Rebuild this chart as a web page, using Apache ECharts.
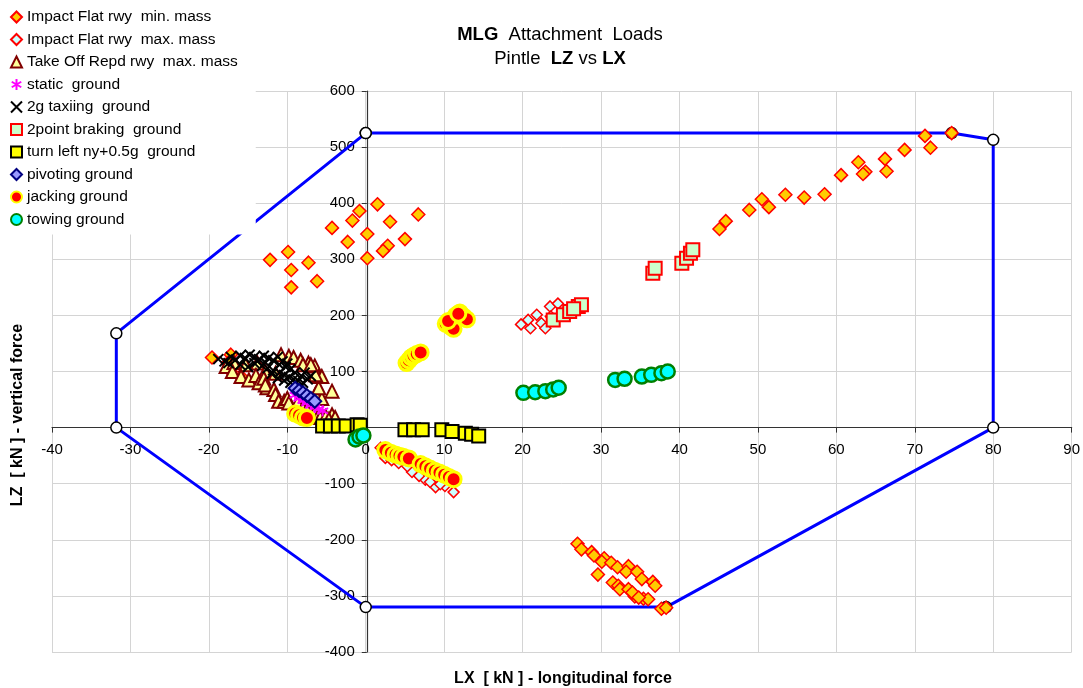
<!DOCTYPE html>
<html>
<head>
<meta charset="utf-8">
<script src="https://cdn.jsdelivr.net/npm/echarts@6/dist/echarts.min.js"></script>
<style>html,body{margin:0;padding:0;background:#fff}#c{width:1083px;height:688px}</style>
</head>
<body>
<div id="c"></div>
<script>
// ---- axis ticks ----
const xTicks = {min: -40, max: 90, interval: 10};
const yTicks = {min: -400, max: 600, interval: 100};

// ---- envelope polygon (LX, LZ) ----
const envelopeX = [0, 74.7, 80, 80, 38.3, 0, -31.8, -31.8, 0];
const envelopeY = [525, 525, 513, 0, -320, -320, 0, 168, 525];

// ---- series names ----
const seriesNames = [
  'Impact Flat rwy  min. mass',
  'Impact Flat rwy  max. mass',
  'Take Off Repd rwy  max. mass',
  'static  ground',
  '2g taxiing  ground',
  '2point braking  ground',
  'turn left ny+0.5g  ground',
  'pivoting ground',
  'jacking ground',
  'towing ground'
];

// ---- series values [LX, LZ] ----
const impactMinMass = [
  [-12.2,299],[-9.9,313],[-9.5,281],[-7.3,294],[-9.5,250],[-6.2,261],[-4.3,356],[-2.3,331],
  [-1.7,369],[-0.8,386],[1.5,398],[0.2,345],[0.2,302],[3.1,367],[2.8,324],[2.2,315],[5.0,336],[6.7,380],
  [45.1,354],[45.9,368],[48.9,388],[50.5,407],[51.4,393],[53.5,415],[55.9,410],[58.5,416],[60.6,450],
  [62.8,473],[63.7,456],[63.4,452],[66.2,479],[66.4,457],[68.7,495],[71.3,520],[72.0,499],[74.7,525],
  [27.0,-207],[27.5,-217],[28.8,-222],[29.1,-228],[30.4,-233],[30.1,-239],[31.3,-241],[32.1,-249],
  [33.5,-247],[33.2,-257],[34.6,-257],[35.2,-270],[29.6,-262],[31.5,-276],[32.2,-282],[32.4,-288],
  [33.5,-288],[34.3,-301],[35.4,-305],[36.0,-306],[36.6,-275],[36.9,-282],[37.7,-323],[38.3,-321],
  [34.0,-294],[34.8,-303],
  [-19.6,125],[-17.2,130],[-17.6,115],[-17.2,100],[-15.9,91]
];
const impactMaxMass = [
  [19.8,184],[21.0,177],[20.7,192],[21.8,201],[22.4,186],[22.9,177],[23.5,216],[24.5,221],[23.6,198],
  [1.9,-36],[2.5,-54],[4.2,-63],[5.9,-79],[7.6,-93],[8.9,-106],[10.1,-104],[11.2,-115],[5.3,-69],
  [8.2,-97],[3.3,-58],[6.8,-86],[9.5,-101]
];
const takeOffMaxMass = [
  [-10.8,130],[-9.8,127],[-9.2,125],[-8.3,120],[-7.3,115],[-6.5,110],[-6.0,91],[-4.3,65],
  [-17.8,109],[-16.8,116],[-15.3,112],[-13.8,115],[-12.8,100],[-11.5,97],
  [-17.0,100],[-15.9,91],[-14.9,85],[-14.0,93],[-13.6,80],[-13.0,88],[-12.6,71],[-12.8,76],
  [-11.7,68],[-11.5,59],[-11.1,47],[-10.4,47],[-10.0,52],[-9.8,44],[-8.7,44],[-8.0,35],
  [-7.0,30],[-6.5,28],[-7.5,32],[-6.0,23],[-5.8,18],[-5.1,20],[-4.3,23],[-4.7,15],[-3.9,18],
  [-6.4,60],[-5.6,52],[-6.0,71],[-5.6,91],[-6.4,94],[-8.0,112],[-7.0,112]
];
const staticGround = [
  [-9.0,58],[-8.5,52],[-8.0,48],[-7.5,44],[-7.0,40],[-6.5,36],[-6.0,33],[-5.5,30]
];
const taxiing2g = [
  [-18.8,122],[-18.0,118],[-17.2,126],[-16.6,121],[-16.0,128],[-15.4,124],[-14.8,130],[-14.2,126],
  [-13.6,122],[-13.0,128],[-12.4,124],[-11.8,120],[-11.2,126],[-10.6,118],[-10.0,114],[-16.0,112],
  [-15.0,108],[-14.2,115],[-13.2,110],[-12.5,106],[-11.8,102],[-11.0,98],[-10.4,94],[-9.8,90],
  [-9.2,86],[-8.6,83],[-8.0,80],[-7.4,86],[-8.2,92],[-9.0,98],[-9.6,104],[-10.2,108],[-11.0,112],
  [-12.0,96],[-11.2,88],[-10.4,84],[-9.6,80],[-7.0,92],[-7.8,98],[-17.5,115],[-13.8,118],[-12.8,116]
];
const braking2point = [
  [23.9,192],[25.2,201],[26.0,207],[27.1,216],[27.5,219],[26.5,212],
  [36.6,275],[36.9,284],[40.3,293],[40.9,302],[41.4,311],[41.7,317]
];
const turnLeft = [
  [-5.5,3],[-4.5,3],[-3.5,3],[-2.5,3],[-1.1,5],[-0.7,4],
  [5.0,-4],[6.1,-4],[7.2,-4],[9.7,-4],[11.0,-7],[12.7,-10],[13.5,-12],[14.4,-15]
];
const pivoting = [
  [-9.0,70],[-8.5,66],[-8.0,62],[-7.5,57],[-7.0,52],[-6.5,47]
];
const jacking = [
  [-9.0,25],[-8.5,22],[-8.0,18],[-7.5,17],
  [5.2,115],[5.5,120],[5.8,125],[6.1,128],[6.5,131],[7.0,134],
  [10.2,185],[10.8,180],[11.2,176],[11.5,200],[12.0,205],[12.5,198],[12.9,193],[10.5,190],[11.8,203],
  [2.5,-40],[3.2,-45],[3.8,-48],[4.3,-50],[4.8,-52],[5.5,-55],[7.0,-65],[7.6,-69],[8.2,-73],
  [8.8,-77],[9.4,-80],[10.0,-84],[10.6,-88],[11.2,-92]
];
const towing = [
  [20.1,62],[21.6,63],[22.9,65],[23.9,68],[24.6,71],
  [31.8,85],[33.0,87],[35.2,91],[36.4,94],[37.7,97],[38.5,100],
  [-1.3,-21],[-0.8,-16],[-0.3,-14]
];

const FONT = "'Liberation Sans', Arial, sans-serif";
const asterisk = 'path://M0,-10L0,10M-8.66,-5L8.66,5M-8.66,5L8.66,-5';
const xMark = 'path://M-5,-5L5,5M-5,5L5,-5';

// plot area geometry
const G = {left: 52, right: 8, top: 91, bottom: 36, w: 1083, h: 688};
const plotW = G.w - G.left - G.right, plotH = G.h - G.top - G.bottom;
// offsets so axes and labels sit on the zero lines
const xZeroPx = plotW * (0 - xTicks.min) / (xTicks.max - xTicks.min);
const yZeroPx = plotH * (0 - yTicks.min) / (yTicks.max - yTicks.min);

function sc(name, data, symbol, size, fill, border, bw) {
  return {
    name: name, type: 'scatter', data: data, symbol: symbol, symbolSize: size,
    itemStyle: {color: fill, borderColor: border, borderWidth: bw, opacity: 1},
    emphasis: {disabled: true}, z: 3
  };
}

const envelope = envelopeX.map((x, i) => [x, envelopeY[i]]);

const chart = echarts.init(document.getElementById('c'), null, {renderer: 'canvas'});
chart.setOption({
  animation: false,
  backgroundColor: '#fff',
  textStyle: {fontFamily: FONT},
  legend: {
    orient: 'vertical', left: 5, top: 4, padding: [5, 18, 7, 5],
    backgroundColor: '#fff', itemWidth: 11, itemHeight: 11, itemGap: 6.5,
    data: seriesNames,
    textStyle: {fontFamily: FONT, fontSize: 15.5, color: '#000'},
    selectedMode: false, z: 10
  },
  grid: {left: G.left, right: G.right, top: G.top, bottom: G.bottom, containLabel: false},
  xAxis: {
    type: 'value', min: xTicks.min, max: xTicks.max, interval: xTicks.interval,
    position: 'bottom', offset: -yZeroPx,
    axisLine: {onZero: false, lineStyle: {color: '#333', width: 1.2}},
    axisTick: {show: true, inside: false, length: 5, lineStyle: {color: '#333'}},
    axisLabel: {fontFamily: FONT, fontSize: 15, color: '#000', margin: 15},
    splitLine: {show: true, lineStyle: {color: '#d4d4d4', width: 1}}
  },
  yAxis: {
    type: 'value', min: yTicks.min, max: yTicks.max, interval: yTicks.interval,
    position: 'left', offset: -xZeroPx,
    axisLine: {onZero: false, lineStyle: {color: '#333', width: 1.2}},
    axisTick: {show: true, inside: false, length: 5, lineStyle: {color: '#333'}},
    axisLabel: {fontFamily: FONT, fontSize: 15, color: '#000', margin: 12},
    splitLine: {show: true, lineStyle: {color: '#d4d4d4', width: 1}}
  },
  graphic: [
    {type: 'text', x: 560, y: 35, z: 20,
      style: {text: '{b|MLG}  Attachment  Loads', fontFamily: FONT, fontSize: 18.5, fill: '#000',
        rich: {b: {fontFamily: FONT, fontSize: 18.5, fontWeight: 'bold', fill: '#000'}},
        textAlign: 'center', textVerticalAlign: 'middle'}},
    {type: 'text', x: 560, y: 59, z: 20,
      style: {text: 'Pintle  {b|LZ} vs {b|LX}', fontFamily: FONT, fontSize: 18.5, fill: '#000',
        rich: {b: {fontFamily: FONT, fontSize: 18.5, fontWeight: 'bold', fill: '#000'}},
        textAlign: 'center', textVerticalAlign: 'middle'}},
    {type: 'text', x: 18, y: 415, rotation: Math.PI / 2,
      style: {text: 'LZ  [ kN ] - vertical force', font: 'bold 16px ' + FONT, fill: '#000',
        textAlign: 'center', textVerticalAlign: 'middle'}},
    {type: 'text', x: 563, y: 679,
      style: {text: 'LX  [ kN ] - longitudinal force', font: 'bold 16px ' + FONT, fill: '#000',
        textAlign: 'center', textVerticalAlign: 'middle'}}
  ],
  series: [
    {name: 'envelope', type: 'line', data: envelope, symbol: 'circle', symbolSize: 11, showSymbol: true,
      lineStyle: {color: '#0000ff', width: 3}, itemStyle: {color: '#fff', borderColor: '#000', borderWidth: 1.5},
      emphasis: {disabled: true}, z: 2, silent: true},
    sc(seriesNames[0], impactMinMass, 'diamond', 13, '#ffcc00', '#ff0000', 1.5),
    sc(seriesNames[1], impactMaxMass, 'diamond', 11, '#ccffff', '#ff0000', 1.5),
    sc(seriesNames[2], takeOffMaxMass, 'triangle', 13, '#ffff99', '#800000', 2),
    sc(seriesNames[3], staticGround, asterisk, 11, '#ff00ff', '#ff00ff', 2),
    sc(seriesNames[4], taxiing2g, xMark, 10, '#000', '#000', 2),
    sc(seriesNames[5], braking2point, 'rect', 13, '#ccffcc', '#ff0000', 2),
    sc(seriesNames[6], turnLeft, 'rect', 13, '#ffff00', '#000', 2),
    sc(seriesNames[7], pivoting, 'diamond', 13, '#9999ff', '#000080', 2),
    sc(seriesNames[8], jacking, 'circle', 15, '#ff0000', '#ffff00', 3),
    sc(seriesNames[9], towing, 'circle', 14, '#00ffff', '#008000', 2.5)
  ]
});
</script>
</body>
</html>
